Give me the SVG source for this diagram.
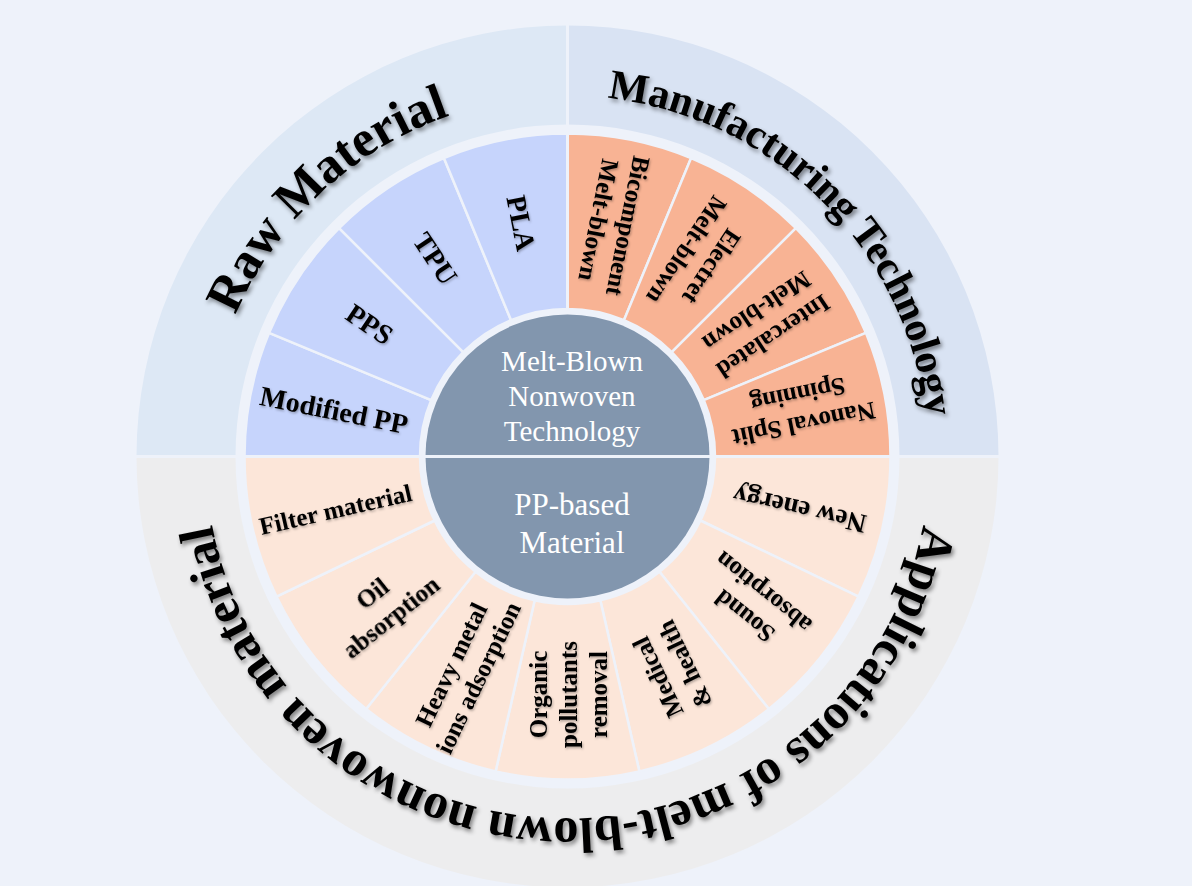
<svg xmlns="http://www.w3.org/2000/svg" width="1192" height="886" viewBox="0 0 1192 886">
<defs>
<style>
.bg{fill:#eef2fa}
.sep{stroke:#eef2fa;stroke-width:3;fill:none}
.ring-raw{fill:#dde8f5}
.ring-man{fill:#d9e3f3}
.ring-app{fill:#ededee}
.sec{stroke:#eef2fa;stroke-width:2.5;stroke-linejoin:round}
.raw{fill:#c6d4fc}
.man{fill:#f8b394}
.app{fill:#fce6d9}
.title{font-family:"Liberation Serif","Times New Roman",serif;font-weight:bold;fill:#000;text-anchor:middle}
.lbl{font-family:"Liberation Serif","Times New Roman",serif;font-weight:bold;fill:#000;text-anchor:middle;dominant-baseline:central}
.ctr{font-family:"Liberation Serif","Times New Roman",serif;fill:#fff;text-anchor:middle}
</style>
<filter id="sh" x="-20%" y="-20%" width="140%" height="140%"><feDropShadow dx="2" dy="3" stdDeviation="2" flood-color="#000" flood-opacity="0.45"/></filter>
<filter id="sh2" x="-20%" y="-20%" width="140%" height="140%"><feDropShadow dx="1" dy="1.5" stdDeviation="1" flood-color="#000" flood-opacity="0.3"/></filter>
<path id="arcRaw" d="M302.75,703.38 A362,362 0 0 1 832.25,209.62"/>
<path id="arcMan" d="M311.53,200.53 A362,362 0 0 1 823.47,712.47"/>
<path id="arcApp" d="M823.47,200.53 A362,362 0 1 1 311.53,200.53"/>
</defs>
<rect class="bg" x="0" y="0" width="1192" height="886"/>

<g id="outer-ring">
<path class="ring-raw" d="M136.5,456.5 A431,431 0 0 1 567.5,25.5 L567.5,124.5 A332,332 0 0 0 235.5,456.5 Z"/>
<path class="ring-man" d="M567.5,25.5 A431,431 0 0 1 998.5,456.5 L899.5,456.5 A332,332 0 0 0 567.5,124.5 Z"/>
<path class="ring-app" d="M998.5,456.5 A431,431 0 0 1 136.5,456.5 L235.5,456.5 A332,332 0 0 0 899.5,456.5 Z"/>
</g>

<g id="node-raw-material">
<path class="sec raw" d="M244.5,456.5 A323,323 0 0 1 269.09,332.89 L431.23,400.05 A147.5,147.5 0 0 0 420,456.5 Z"/>
<path class="sec raw" d="M269.09,332.89 A323,323 0 0 1 339.1,228.1 L463.2,352.2 A147.5,147.5 0 0 0 431.23,400.05 Z"/>
<path class="sec raw" d="M339.1,228.1 A323,323 0 0 1 443.89,158.09 L511.05,320.23 A147.5,147.5 0 0 0 463.2,352.2 Z"/>
<path class="sec raw" d="M443.89,158.09 A323,323 0 0 1 567.5,133.5 L567.5,309 A147.5,147.5 0 0 0 511.05,320.23 Z"/>
</g>

<g id="node-manufacturing">
<path class="sec man" d="M567.5,133.5 A323,323 0 0 1 691.11,158.09 L623.95,320.23 A147.5,147.5 0 0 0 567.5,309 Z"/>
<path class="sec man" d="M691.11,158.09 A323,323 0 0 1 795.9,228.1 L671.8,352.2 A147.5,147.5 0 0 0 623.95,320.23 Z"/>
<path class="sec man" d="M795.9,228.1 A323,323 0 0 1 865.91,332.89 L703.77,400.05 A147.5,147.5 0 0 0 671.8,352.2 Z"/>
<path class="sec man" d="M865.91,332.89 A323,323 0 0 1 890.5,456.5 L715,456.5 A147.5,147.5 0 0 0 703.77,400.05 Z"/>
</g>

<g id="node-applications">
<path class="sec app" d="M890.5,456.5 A323,323 0 0 1 858.51,596.64 L700.39,520.5 A147.5,147.5 0 0 0 715,456.5 Z"/>
<path class="sec app" d="M858.51,596.64 A323,323 0 0 1 768.89,709.03 L659.46,571.82 A147.5,147.5 0 0 0 700.39,520.5 Z"/>
<path class="sec app" d="M768.89,709.03 A323,323 0 0 1 639.37,771.4 L600.32,600.3 A147.5,147.5 0 0 0 659.46,571.82 Z"/>
<path class="sec app" d="M639.37,771.4 A323,323 0 0 1 495.63,771.4 L534.68,600.3 A147.5,147.5 0 0 0 600.32,600.3 Z"/>
<path class="sec app" d="M495.63,771.4 A323,323 0 0 1 366.11,709.03 L475.54,571.82 A147.5,147.5 0 0 0 534.68,600.3 Z"/>
<path class="sec app" d="M366.11,709.03 A323,323 0 0 1 276.49,596.64 L434.61,520.5 A147.5,147.5 0 0 0 475.54,571.82 Z"/>
<path class="sec app" d="M276.49,596.64 A323,323 0 0 1 244.5,456.5 L420,456.5 A147.5,147.5 0 0 0 434.61,520.5 Z"/>
</g>

<g id="separators">
<line class="sep" x1="567.5" y1="15" x2="567.5" y2="315"/>
</g>

<g id="node-center">
<circle cx="567.5" cy="456.5" r="142" fill="#8296ae"/>
<text class="ctr" font-size="29"><tspan x="572" y="370.5">Melt-Blown</tspan><tspan x="572" y="406">Nonwoven</tspan><tspan x="572" y="440.5">Technology</tspan></text>
<text class="ctr" font-size="31"><tspan x="572" y="515">PP-based</tspan><tspan x="572" y="552.5">Material</tspan></text>
</g>

<line class="sep" x1="125" y1="456.5" x2="1010" y2="456.5"/>

<g id="titles" filter="url(#sh)">
<text class="title" font-size="51"><textPath href="#arcRaw" startOffset="50%">Raw Material</textPath></text>
<text class="title" font-size="42"><textPath href="#arcMan" startOffset="50%">Manufacturing Technology</textPath></text>
<text class="title" font-size="50"><textPath href="#arcApp" startOffset="50%">Applications of melt-blown nonwoven material</textPath></text>
</g>

<g id="labels" filter="url(#sh2)" font-size="25">
<text class="lbl" font-size="28" transform="translate(334.07,410.07) rotate(11.25)">Modified PP</text>
<text class="lbl" font-size="28" transform="translate(369.61,324.27) rotate(33.75)">PPS</text>
<text class="lbl" font-size="28" transform="translate(435.27,258.61) rotate(56.25)">TPU</text>
<text class="lbl" font-size="28" transform="translate(521.07,223.07) rotate(78.75)">PLA</text>

<text class="lbl" transform="translate(613.93,223.07) rotate(101.25)"><tspan x="0" dy="-15">Bicomponent</tspan><tspan x="0" dy="30">Melt-blown</tspan></text>
<text class="lbl" transform="translate(699.73,258.61) rotate(123.75)"><tspan x="0" dy="-15">Electret</tspan><tspan x="0" dy="30">Melt-blown</tspan></text>
<text class="lbl" transform="translate(765.39,324.27) rotate(146.25)"><tspan x="0" dy="-15">Intercalated</tspan><tspan x="0" dy="30">Melt-blown</tspan></text>
<text class="lbl" transform="translate(800.93,410.07) rotate(168.75)"><tspan x="0" dy="-15">Nanoval Split</tspan><tspan x="0" dy="30">Spinning</tspan></text>

<text class="lbl" font-size="27" transform="translate(799.53,509.46) rotate(192.857)">New energy</text>
<text class="lbl" transform="translate(753.58,604.89) rotate(218.571)"><tspan x="0" dy="-15">Sound</tspan><tspan x="0" dy="30">absorption</tspan></text>
<text class="lbl" transform="translate(670.76,670.93) rotate(244.286)"><tspan x="0" dy="-15">Medical</tspan><tspan x="0" dy="30">&amp; health</tspan></text>
<text class="lbl" transform="translate(567.5,694.5) rotate(270)"><tspan x="0" dy="-30">Organic</tspan><tspan x="0" dy="30">pollutants</tspan><tspan x="0" dy="30">removal</tspan></text>
<text class="lbl" transform="translate(464.24,670.93) rotate(-64.286)"><tspan x="0" dy="-15">Heavy metal</tspan><tspan x="0" dy="30">ions adsorption</tspan></text>
<text class="lbl" transform="translate(381.42,604.89) rotate(-38.571)"><tspan x="0" dy="-15">Oil</tspan><tspan x="0" dy="30">absorption</tspan></text>
<text class="lbl" transform="translate(335.47,509.46) rotate(-12.857)">Filter material</text>
</g>
</svg>
